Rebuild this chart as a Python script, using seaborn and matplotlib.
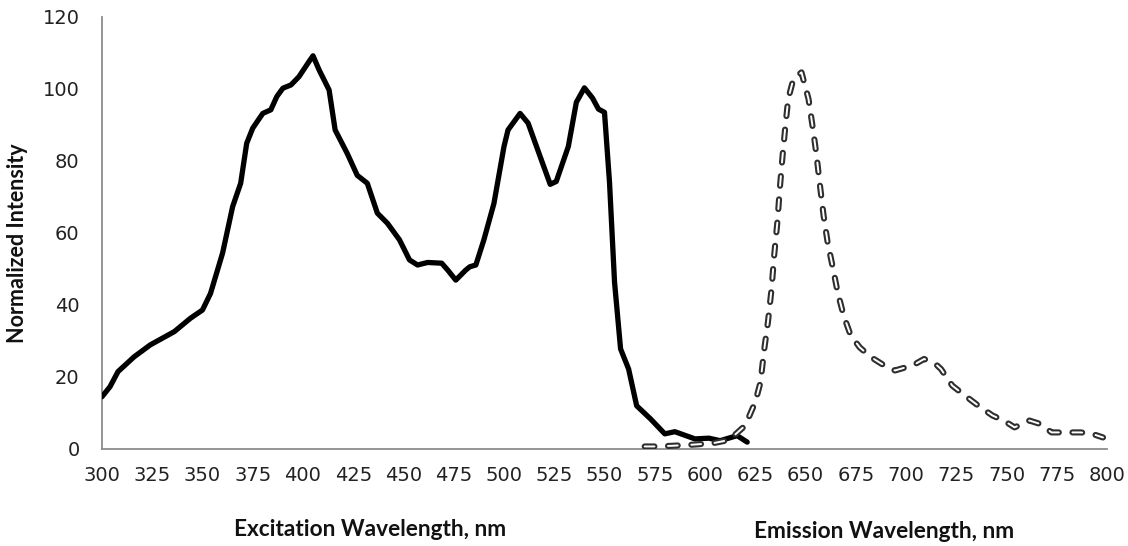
import matplotlib
matplotlib.use("Agg")
import matplotlib.pyplot as plt
import matplotlib.patheffects as pe
import seaborn as sns
import pandas as pd

# ---- data ----
exc_wl = [300, 304, 308, 316, 324, 336, 344, 350, 354, 360, 365, 369, 372, 375,
          380, 384, 387, 390, 394, 398, 403, 405, 408, 413, 416, 422, 427, 432,
          437, 442, 448, 453, 457, 462, 469, 472, 476, 481, 483, 486, 490, 495,
          500, 502, 508, 512, 518, 523, 526, 532, 536, 540, 544, 547, 550, 552.5,
          555, 558, 562, 566, 573, 580, 585, 595, 602, 607.5, 616, 621]
exc_int = [14.5, 17.3, 21.5, 25.6, 28.9, 32.6, 36.3, 38.6, 43.2, 54.4, 67.3, 73.8,
           84.9, 89.1, 93.2, 94.2, 97.9, 100.2, 101.1, 103.4, 107.6, 109.2, 105.3,
           99.7, 88.6, 82.1, 76.0, 73.8, 65.5, 62.7, 58.1, 52.5, 51.1, 51.8, 51.6,
           49.7, 46.9, 49.7, 50.6, 51.1, 58.1, 68.2, 84.0, 88.6, 93.2, 90.5, 81.2,
           73.5, 74.3, 84.0, 96.3, 100.3, 97.5, 94.4, 93.5, 74.0, 46.3, 27.8, 22.2,
           12.0, 8.3, 4.2, 4.8, 2.8, 3.0, 2.3, 3.7, 1.9]

em_wl = [570, 576, 584, 594, 604, 612, 620, 625, 627.6, 629.5, 631.3, 633.1, 634.4,
         636, 637.2, 638.6, 640, 641.4, 644, 648, 651.5, 653.7, 655.5, 657, 659,
         661, 663.4, 666, 669, 672.5, 677, 682.6, 688, 694.5, 700, 704.6, 709,
         714.7, 717.4, 723, 729.4, 736, 743, 748.6, 754, 761.4, 767, 772.4, 780,
         787, 792.6, 798]
em_int = [0.7, 0.7, 0.9, 1.2, 1.6, 2.5, 6.5, 13.0, 18.5, 27.8, 35.2, 44.4, 53.7,
          63.0, 72.2, 81.5, 89.8, 97.2, 102.8, 104.6, 97.2, 88.9, 81.5, 74.1, 64.8,
          57.4, 50.9, 43.5, 37.0, 31.5, 28.2, 25.5, 23.6, 21.8, 22.7, 23.6, 25.0,
          23.6, 22.2, 17.6, 14.8, 12.0, 9.3, 7.9, 6.0, 7.9, 6.9, 4.6, 4.6, 4.6,
          4.2, 3.2]

x_ticks = list(range(300, 801, 25))
y_ticks = [0, 20, 40, 60, 80, 100, 120]
y_label = "Normalized Intensity"
x_label_exc = "Excitation Wavelength, nm"
x_label_em = "Emission Wavelength, nm"

# ---- figure ----
sns.set_theme(style="white")
plt.rcParams["font.family"] = ["DejaVu Sans"]

fig = plt.figure(figsize=(11.28, 5.46), dpi=100)
ax = fig.add_axes([0.0904, 0.1777, 0.891, 0.7913])

exc_df = pd.DataFrame({"wl": exc_wl, "intensity": exc_int})
em_df = pd.DataFrame({"wl": em_wl, "intensity": em_int})

sns.lineplot(data=exc_df, x="wl", y="intensity", ax=ax, color="black",
             linewidth=3.8, estimator=None, sort=False, zorder=3)
sns.lineplot(data=em_df, x="wl", y="intensity", ax=ax, color="white",
             linewidth=1.4, estimator=None, sort=False, zorder=4,
             linestyle=(0, (5.0, 7.0)), dash_capstyle="round")
em_line = ax.lines[-1]
em_line.set_dash_capstyle("round")
em_line.set_path_effects([pe.Stroke(linewidth=4.4, foreground="#2e2e2e"),
                          pe.Normal()])

ax.set_xlim(300, 800)
ax.set_ylim(0, 120)
ax.set_xticks(x_ticks)
ax.set_yticks(y_ticks)
ax.set_xticklabels([str(t) for t in x_ticks])
ax.set_yticklabels([str(t) for t in y_ticks])
ax.set_xlabel("")
ax.set_ylabel("")

for s in ["top", "right"]:
    ax.spines[s].set_visible(False)
for s in ["left", "bottom"]:
    ax.spines[s].set_color("#8c8c8c")
    ax.spines[s].set_linewidth(1.3)

ax.tick_params(axis="x", direction="out", length=6, width=1.3, color="#8c8c8c",
               labelsize=14, labelcolor="#222222", pad=6)
ax.tick_params(axis="y", length=0, labelsize=14, labelcolor="#222222", pad=16)
ax.grid(False)

fig.text(18 / 1128, 1 - 243 / 546, y_label, rotation=90, ha="center", va="center",
         fontsize=15.5, fontweight="bold", family=["Lato", "DejaVu Sans"], color="#111111")
fig.text(370 / 1128, 1 - 530 / 546, x_label_exc, ha="center", va="center",
         fontsize=16.3, fontweight="bold", family=["Lato", "DejaVu Sans"], color="#111111")
fig.text(884 / 1128, 1 - 531 / 546, x_label_em, ha="center", va="center",
         fontsize=16.3, fontweight="bold", family=["Lato", "DejaVu Sans"], color="#111111")

fig.savefig("out.png", dpi=100, facecolor="white")
